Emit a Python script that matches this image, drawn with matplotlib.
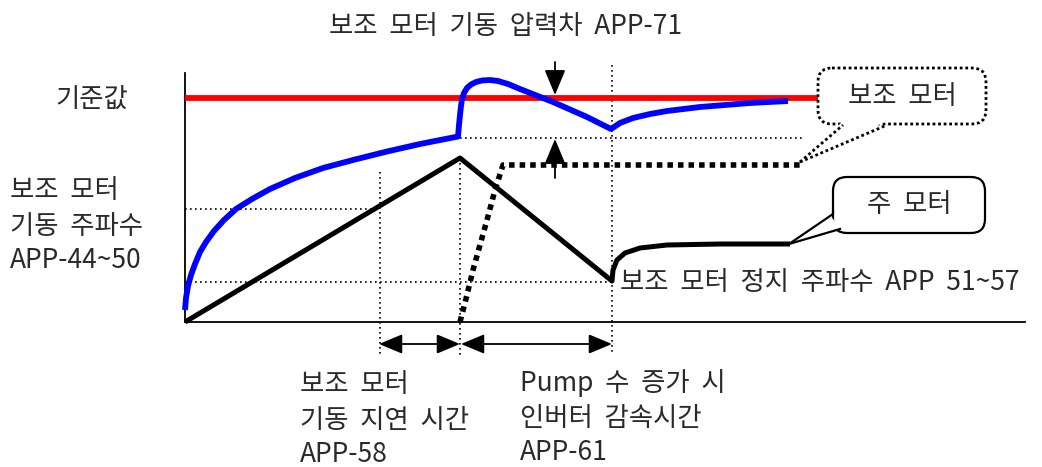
import matplotlib
matplotlib.use("Agg")
import matplotlib.pyplot as plt
from matplotlib.patches import FancyBboxPatch, Polygon

plt.rcParams["font.family"] = ["Noto Sans CJK KR", "DejaVu Sans"]

# diagram, in pixel units (y grows downward)
blue_x = [185, 186, 188, 191, 195, 200, 206, 214, 224, 236, 252, 270, 295, 323, 355, 387, 420, 458,
          459, 460, 461, 462, 464, 467, 471, 476, 482, 490, 498, 508, 520, 553, 587, 611,
          620, 633, 650, 667, 700, 750, 788]
blue_y = [310, 298, 286, 275, 264, 252, 242, 231, 220, 209, 199, 189, 178, 168, 159.5, 151.5, 144, 136.5,
          125, 115, 106, 99, 93, 88, 84.5, 82, 80.5, 80, 81, 84, 89, 102, 117, 129,
          123, 118, 114, 111, 107, 103, 101]

main_x = [185, 460, 612, 613, 617, 625, 640, 667, 720, 790]
main_y = [322, 158, 281, 270, 260, 253, 248, 245, 244, 244]

aux_x = [460, 467, 473, 480, 487, 495, 503, 800]
aux_y = [322, 295, 270, 245, 220, 190, 165, 165]

ref_y = 98
ref_x = [185, 818]

guide_h = [(209, 185, 380), (282, 185, 612), (138, 460, 802)]
guide_v = [(380, 172, 355), (460, 158, 355), (612, 65, 355)]

fig = plt.figure(figsize=(10.42, 4.67), dpi=100)
ax = fig.add_axes([0, 0, 1, 1])
ax.set_xlim(0, 1042)
ax.set_ylim(467, 0)
ax.axis("off")

# axes lines
ax.plot([185, 185], [73, 322], color="black", lw=1.3)
ax.plot([185, 1025], [322, 322], color="black", lw=1.3)

for y, x0, x1 in guide_h:
    ax.plot([x0, x1], [y, y], color="black", lw=1.2, ls=(0, (1, 2)))
for x, y0, y1 in guide_v:
    ax.plot([x, x], [y0, y1], color="black", lw=1.2, ls=(0, (1, 2)))

ax.plot(ref_x, [ref_y, ref_y], color="#ff0000", lw=4.2, solid_capstyle="butt")
ax.plot(blue_x, blue_y, color="#0000ff", lw=4.2, solid_capstyle="butt", solid_joinstyle="round")
ax.plot(main_x, main_y, color="black", lw=3.6, solid_capstyle="butt")
ax.plot(aux_x, aux_y, color="black", lw=4, ls=(0, (1, 0.9)), dash_capstyle="butt")

# pressure difference arrows
arr = dict(arrowstyle="-|>,head_length=0.6,head_width=0.25", color="black", lw=1.3,
           mutation_scale=26, shrinkA=0, shrinkB=0)
ax.annotate("", xy=(555, 95), xytext=(555, 62), arrowprops=arr)
ax.annotate("", xy=(555, 139), xytext=(555, 178), arrowprops=arr)

# time span arrows
dbl = dict(arrowstyle="<|-|>,head_length=0.6,head_width=0.25", color="black", lw=1.3,
           mutation_scale=24, shrinkA=0, shrinkB=0)
ax.annotate("", xy=(460, 344), xytext=(379, 344), arrowprops=dbl)
ax.annotate("", xy=(612, 344), xytext=(461, 344), arrowprops=dbl)

txt = dict(fontsize=19, color="#2a2a2a", va="center", fontweight="light")

# callout: aux motor (dotted)
box1 = FancyBboxPatch((818, 68), 168, 56, boxstyle="round,pad=0,rounding_size=14",
                      fc="white", ec="black", lw=2, ls=(0, (1, 1)), zorder=5)
ax.add_patch(box1)
ax.add_patch(Polygon([(800, 162), (843, 121), (887, 121)], closed=True,
                     fc="white", ec="none", zorder=6))
ax.plot([800, 843], [162, 125], color="black", lw=2, ls=(0, (1, 1)), zorder=7)
ax.plot([800, 887], [162, 125], color="black", lw=2, ls=(0, (1, 1)), zorder=7)
ax.text(902, 97, "보조  모터", ha="center", zorder=8, **txt)

# callout: main motor (solid)
box2 = FancyBboxPatch((833, 177), 152, 56, boxstyle="round,pad=0,rounding_size=14",
                      fc="white", ec="black", lw=1.6, zorder=5)
ax.add_patch(box2)
ax.add_patch(Polygon([(789, 244), (829, 214), (840, 228)], closed=True,
                     fc="white", ec="none", zorder=6))
ax.plot([789, 833, 833], [244, 214, 212], color="black", lw=1.6, zorder=7)
ax.plot([789, 840], [244, 229], color="black", lw=1.6, zorder=7)
ax.text(909, 205, "주  모터", ha="center", zorder=8, **txt)

ax.text(506, 27, "보조  모터  기동  압력차  APP-71", ha="center", **txt)
ax.text(55, 100, "기준값", ha="left", **txt)
ax.text(10, 190, "보조  모터", ha="left", **txt)
ax.text(10, 226, "기동  주파수", ha="left", **txt)
ax.text(10, 261, "APP-44~50", ha="left", **txt)
ax.text(620, 283, "보조  모터  정지  주파수  APP  51~57", ha="left", **txt)
ax.text(300, 385, "보조  모터", ha="left", **txt)
ax.text(300, 420, "기동  지연  시간", ha="left", **txt)
ax.text(300, 455, "APP-58", ha="left", **txt)
ax.text(520, 383, "Pump  수  증가  시", ha="left", **txt)
ax.text(520, 418, "인버터  감속시간", ha="left", **txt)
ax.text(520, 453, "APP-61", ha="left", **txt)

fig.savefig("out.png", dpi=100, facecolor="white")
